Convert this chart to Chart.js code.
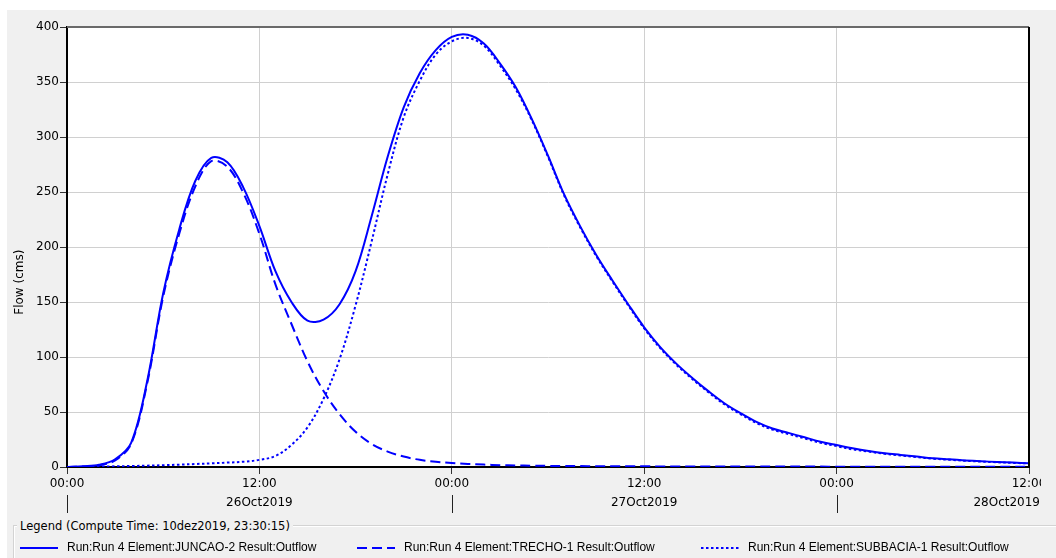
<!DOCTYPE html>
<html>
<head>
<meta charset="utf-8">
<script src="https://cdn.jsdelivr.net/npm/chart.js@4.4.0/dist/chart.umd.min.js"></script>
<style>
  html, body { margin: 0; padding: 0; background: #fff; overflow: hidden; }
  #panel { position: absolute; left: 7px; top: 10px; width: 1049px; height: 548px; background: #f0f0f0; }
  #chart { position: absolute; left: 0; top: 0; }
  #legendFrame { position: absolute; left: 13px; top: 525px; width: 1060px; height: 60px;
                 border-top: 1px solid #d3d3d3; border-left: 1px solid #d3d3d3; box-shadow: inset 1px 1px 0 #fff; }
  #legendTitle { position: absolute; left: 17px; top: 518px; padding: 0 3px; background: #f0f0f0;
                 font: 11.5px "DejaVu Sans"; line-height: 16px; color: #000; white-space: nowrap; }
  .item { position: absolute; top: 539px; height: 16px; font: 12px "Liberation Sans"; line-height: 16px;
          color: #000; white-space: nowrap; }
  .item svg { position: absolute; left: 0; top: 7px; }
  .item span { position: absolute; left: 47px; top: 0; }
</style>
</head>
<body>
<div id="panel"></div>
<canvas id="chart" width="1041" height="520"></canvas>
<div id="legendFrame"></div>
<div id="legendTitle">Legend (Compute Time: 10dez2019, 23:30:15)</div>
<div id="legendItems"></div>
<script>
// hours since 26Oct2019 00:00
const hours = [0, 1, 2, 3, 4, 5, 6, 7, 8, 9, 10, 11, 12, 13, 14, 15, 16, 17, 18, 19, 20,
  21, 22, 23, 24, 25, 26, 27, 28, 29, 30, 31, 32, 33, 34, 35, 36, 37, 38, 39, 40,
  41, 42, 43, 44, 45, 46, 47, 48, 49, 50, 51, 52, 53, 54, 55, 56, 57, 58, 59, 60];

// flows (cms)
const juncao = [0, 0.7, 2, 7, 22, 78, 158, 216, 260, 281, 277, 254, 219, 178, 150, 133, 134, 148, 178, 228, 282,
  327, 358, 379, 391, 393, 385, 367, 345, 316, 283, 248, 219, 193, 170, 148, 127, 109, 94, 81, 69,
  58, 49, 41, 35, 31, 27, 23, 20, 17, 14.5, 12.5, 11, 9.5, 8, 7, 6, 5.2, 4.6, 4, 3.5];

const trecho = [0, 0.5, 1.5, 6, 21, 76, 155, 212, 255, 278, 273, 249, 212, 166, 130, 96, 69, 48, 32, 21, 14,
  9.5, 6.5, 4.8, 3.6, 2.8, 2.2, 1.7, 1.4, 1.2, 1.0, 0.9, 0.8, 0.75, 0.7, 0.65, 0.6, 0.55, 0.5, 0.5, 0.45,
  0.45, 0.4, 0.4, 0.4, 0.35, 0.35, 0.35, 0.3, 0.3, 0.3, 0.3, 0.3, 0.25, 0.25, 0.25, 0.25, 0.2, 0.2, 0.2, 0.2];

const subbacia = [0, 0.1, 0.3, 0.6, 0.9, 1.2, 1.6, 2.1, 2.7, 3.3, 4.0, 4.8, 6.5, 10, 20, 36, 62, 98, 147, 205, 266,
  318, 351, 375, 387, 390, 383, 365, 343, 315, 282, 247, 218, 192, 169, 147, 126, 108, 93, 80, 68,
  57, 48, 40, 34, 30, 26, 22, 19, 16, 14, 12, 10.5, 9, 7.6, 6.6, 5.7, 4.9, 4.3, 3.7, 3.2];

const seriesNames = [
  'Run:Run 4 Element:JUNCAO-2 Result:Outflow',
  'Run:Run 4 Element:TRECHO-1 Result:Outflow',
  'Run:Run 4 Element:SUBBACIA-1 Result:Outflow'
];
const yTitle = 'Flow (cms)';
const timeLabels = ['00:00', '12:00', '00:00', '12:00', '00:00', '12:00'];
const dateLabels = ['26Oct2019', '27Oct2019', '28Oct2019'];
const dateHours = [12, 36, 60];
const dayStartHours = [0, 24, 48];

const seriesDash = [[], [10, 5], [2.5, 2.5]];
const legendLeft = [20, 357, 701];

function toPoints(values) {
  return hours.map((h, i) => ({ x: h, y: values[i] }));
}

const datasets = [juncao, trecho, subbacia].map((vals, i) => ({
  label: seriesNames[i],
  data: toPoints(vals),
  borderColor: '#0000ff',
  borderWidth: 2,
  borderDash: seriesDash[i],
  pointRadius: 0,
  fill: false,
  tension: 0.35
}));

// white plot area, frame, long day ticks, date labels and axis title
const hmsFrame = {
  id: 'hmsFrame',
  beforeDraw(chart) {
    const { ctx, chartArea: a } = chart;
    ctx.save();
    ctx.fillStyle = '#fff';
    ctx.fillRect(a.left, a.top, a.right - a.left, a.bottom - a.top);
    ctx.restore();
  },
  afterDraw(chart) {
    const { ctx, chartArea: a } = chart;
    const x = chart.scales.x;
    ctx.save();
    ctx.lineWidth = 2;
    ctx.strokeStyle = '#6a6a6a';
    ctx.beginPath();
    ctx.moveTo(a.left, a.top);
    ctx.lineTo(a.right, a.top);
    ctx.stroke();
    ctx.strokeStyle = '#000';
    ctx.beginPath();
    ctx.moveTo(a.right, a.top);
    ctx.lineTo(a.right, a.bottom);
    ctx.stroke();

    ctx.lineWidth = 1;
    ctx.strokeStyle = '#222';
    dayStartHours.forEach(h => {
      const px = Math.round(x.getPixelForValue(h)) + 0.5;
      ctx.beginPath();
      ctx.moveTo(px, a.bottom + 28);
      ctx.lineTo(px, a.bottom + 46);
      ctx.stroke();
    });

    ctx.font = '12px "DejaVu Sans"';
    ctx.fillStyle = '#000';
    ctx.textAlign = 'center';
    ctx.textBaseline = 'middle';
    dateLabels.forEach((d, i) => {
      const w = ctx.measureText(d).width;
      const px = Math.min(x.getPixelForValue(dateHours[i]), chart.width - w / 2 - 1);
      ctx.fillText(d, px, a.bottom + 36);
    });

    // y axis title, a bit below the middle like HEC-HMS draws it
    ctx.translate(20, a.top + (a.bottom - a.top) * 0.58);
    ctx.rotate(-Math.PI / 2);
    ctx.fillText(yTitle, 0, 0);
    ctx.restore();
  }
};

const ctx = document.getElementById('chart').getContext('2d');
const chart = new Chart(ctx, {
  type: 'line',
  data: { datasets: datasets },
  options: {
    responsive: false,
    animation: false,
    layout: { padding: { left: 13, right: 12, top: 27, bottom: 0 } },
    plugins: {
      legend: { display: false },
      tooltip: { enabled: false }
    },
    scales: {
      x: {
        type: 'linear',
        min: 0,
        max: 60,
        border: { color: '#000', width: 2 },
        grid: { color: '#d0d0d0', lineWidth: 1, tickLength: 7, tickColor: '#333' },
        ticks: {
          stepSize: 12,
          autoSkip: false,
          maxRotation: 0,
          padding: 3,
          color: '#000',
          font: { family: 'DejaVu Sans', size: 12 },
          callback: (v, i) => timeLabels[i]
        },
        afterFit: scale => {
          scale.height = 53;
          scale.paddingLeft = 0;
          scale.paddingRight = 0;
        }
      },
      y: {
        min: 0,
        max: 400,
        border: { color: '#000', width: 2 },
        grid: { color: '#d0d0d0', lineWidth: 1, tickLength: 7, tickColor: '#333' },
        ticks: {
          stepSize: 50,
          padding: 1,
          color: '#000',
          font: { family: 'DejaVu Sans', size: 12 }
        },
        afterFit: scale => {
          scale.width = 54;
        }
      }
    }
  },
  plugins: [hmsFrame]
});

// legend strip below the plot, same look as the HEC-HMS legend box
const holder = document.getElementById('legendItems');
datasets.forEach((ds, i) => {
  const item = document.createElement('div');
  item.className = 'item';
  item.style.left = legendLeft[i] + 'px';
  const dash = ds.borderDash.length ? ds.borderDash.join(' ') : 'none';
  item.innerHTML =
    '<svg width="38" height="4"><line x1="0" y1="2" x2="38" y2="2" stroke="' + ds.borderColor +
    '" stroke-width="2" stroke-dasharray="' + dash + '"/></svg><span></span>';
  item.querySelector('span').textContent = ds.label;
  holder.appendChild(item);
});
</script>
</body>
</html>
